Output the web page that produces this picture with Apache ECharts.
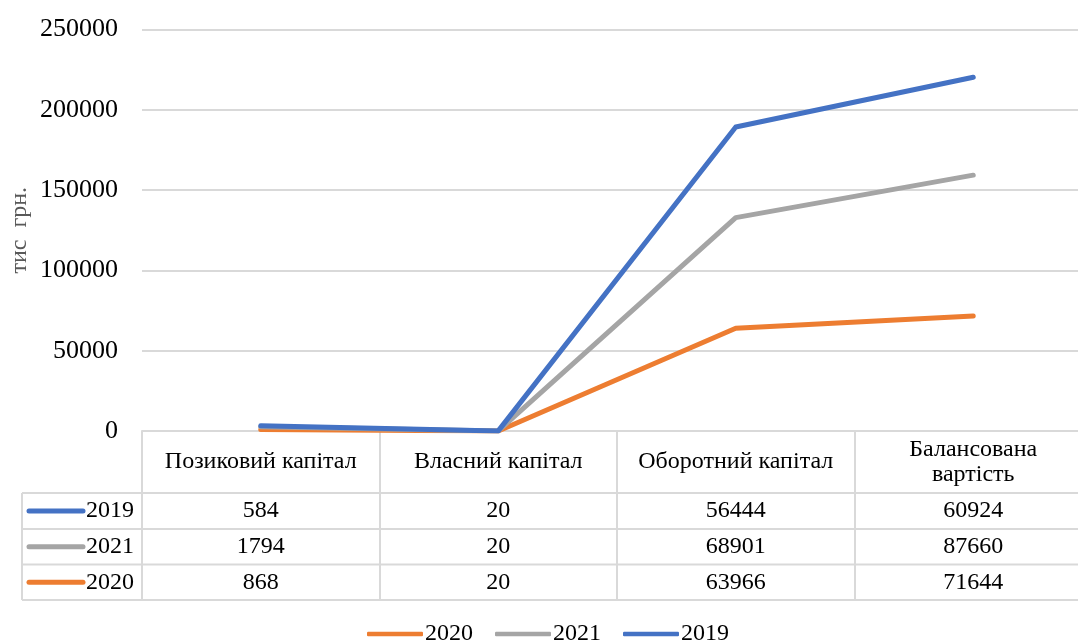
<!DOCTYPE html>
<html>
<head>
<meta charset="utf-8">
<script src="https://cdn.jsdelivr.net/npm/echarts@6/dist/echarts.min.js"></script>
<style>
  html, body { margin: 0; padding: 0; background: #fff; }
  #chart { width: 1078px; height: 644px; }
</style>
</head>
<body>
<div id="chart"></div>
<script>
// Capital structure by year (thousand UAH); series are stacked in the order 2020, 2021, 2019
const categories = ['Позиковий капітал', 'Власний капітал', 'Оборотний капітал', 'Балансована вартість'];
const values2019 = [584, 20, 56444, 60924];
const values2021 = [1794, 20, 68901, 87660];
const values2020 = [868, 20, 63966, 71644];
const yMin = 0;
const yMax = 250000;
const yStep = 50000;
const axisTitle = 'тис  грн.';

const COLORS = { '2019': '#4472C4', '2021': '#A5A5A5', '2020': '#ED7D31' };
const FONT = '"Liberation Serif", "Times New Roman", serif';
const TABLE_FONT_SIZE = 24;
const TICK_FONT_SIZE = 26;
const GRID_COLOR = '#D9D9D9';
const LINE_WIDTH = 5;

// data-table rows, top to bottom
const tableRows = [
  { name: '2019', values: values2019 },
  { name: '2021', values: values2021 },
  { name: '2020', values: values2020 }
];

const chart = echarts.init(document.getElementById('chart'), null, { renderer: 'canvas' });

const GRID = { left: 142, top: 29.5, width: 950, height: 401.5 };
const ROW_LINES = [493, 529, 564.5, 600]; // header bottom, then each data row bottom
const TABLE_LEFT = 22;
const HEADER_TEXT_WIDTH = 215;

// wrap a header label onto several lines only when it does not fit its cell
const measureCtx = document.createElement('canvas').getContext('2d');
function wrapLabel(text) {
  measureCtx.font = TABLE_FONT_SIZE + 'px ' + FONT;
  if (measureCtx.measureText(text).width <= HEADER_TEXT_WIDTH) return text;
  const words = text.split(' ');
  const lines = [];
  let cur = '';
  words.forEach(w => {
    const next = cur ? cur + ' ' + w : w;
    if (cur && measureCtx.measureText(next).width > HEADER_TEXT_WIDTH) {
      lines.push(cur);
      cur = w;
    } else {
      cur = next;
    }
  });
  if (cur) lines.push(cur);
  return lines.join('\n');
}

function lineSeries(name, data) {
  return {
    name: name,
    type: 'line',
    stack: 'total',
    data: data,
    symbol: 'none',
    lineStyle: { color: COLORS[name], width: LINE_WIDTH, cap: 'round', join: 'round' },
    itemStyle: { color: COLORS[name] }
  };
}

chart.setOption({
  animation: false,
  backgroundColor: '#fff',
  textStyle: { fontFamily: FONT },
  grid: Object.assign({ outerBoundsMode: 'none', containLabel: false }, GRID),
  legend: {
    data: ['2020', '2021', '2019'],
    left: 362,
    top: 617,
    icon: 'roundRect',
    itemWidth: 56,
    itemHeight: 4.5,
    itemGap: 22,
    textStyle: { fontFamily: FONT, fontSize: TABLE_FONT_SIZE, color: '#000', padding: [0, 0, 0, -3] }
  },
  xAxis: {
    type: 'category',
    data: categories,
    boundaryGap: true,
    axisLine: { show: true, lineStyle: { color: GRID_COLOR, width: 2 } },
    axisTick: { show: true, inside: false, length: ROW_LINES[3] - (GRID.top + GRID.height), lineStyle: { color: GRID_COLOR, width: 2 } },
    axisLabel: {
      color: '#000',
      fontFamily: FONT,
      fontSize: TABLE_FONT_SIZE,
      margin: 31,
      verticalAlign: 'middle',
      lineHeight: 25,
      interval: 0,
      formatter: wrapLabel
    },
    splitLine: { show: false }
  },
  yAxis: {
    type: 'value',
    min: yMin,
    max: yMax,
    interval: yStep,
    name: axisTitle,
    nameLocation: 'middle',
    nameRotate: 90,
    nameGap: 122,
    nameMoveOverlap: false,
    nameTextStyle: { color: '#595959', fontFamily: FONT, fontSize: TABLE_FONT_SIZE, verticalAlign: 'middle' },
    axisLine: { show: false },
    axisTick: { show: false },
    axisLabel: { color: '#000', fontFamily: FONT, fontSize: TICK_FONT_SIZE, margin: 24, formatter: v => String(v) },
    splitLine: { lineStyle: { color: GRID_COLOR, width: 2 } }
  },
  series: [
    lineSeries('2020', values2020),
    lineSeries('2021', values2021),
    lineSeries('2019', values2019)
  ]
});

// Data table under the plot, laid out on the category axis
function drawTable() {
  const centers = categories.map((c, i) => chart.convertToPixel({ xAxisIndex: 0 }, i));
  const band = centers.length > 1 ? centers[1] - centers[0] : GRID.width;
  const right = centers[centers.length - 1] + band / 2;
  const font = TABLE_FONT_SIZE + 'px ' + FONT;
  const elements = [];

  ROW_LINES.forEach(y => {
    elements.push({
      type: 'line', silent: true,
      shape: { x1: TABLE_LEFT, y1: y, x2: right, y2: y },
      style: { stroke: GRID_COLOR, lineWidth: 2 }
    });
  });
  elements.push({
    type: 'line', silent: true,
    shape: { x1: TABLE_LEFT, y1: ROW_LINES[0], x2: TABLE_LEFT, y2: ROW_LINES[3] },
    style: { stroke: GRID_COLOR, lineWidth: 2 }
  });

  tableRows.forEach((row, r) => {
    const yc = (ROW_LINES[r] + ROW_LINES[r + 1]) / 2;
    elements.push({
      type: 'line', silent: true,
      shape: { x1: 29, y1: yc, x2: 83, y2: yc },
      style: { stroke: COLORS[row.name], lineWidth: LINE_WIDTH, lineCap: 'round' }
    });
    elements.push({
      type: 'text', silent: true, x: 86, y: yc,
      style: { text: row.name, font: font, fill: '#000', align: 'left', verticalAlign: 'middle' }
    });
    row.values.forEach((v, i) => {
      elements.push({
        type: 'text', silent: true, x: centers[i], y: yc,
        style: { text: String(v), font: font, fill: '#000', align: 'center', verticalAlign: 'middle' }
      });
    });
  });

  chart.setOption({ graphic: elements });
}
drawTable();
</script>
</body>
</html>
